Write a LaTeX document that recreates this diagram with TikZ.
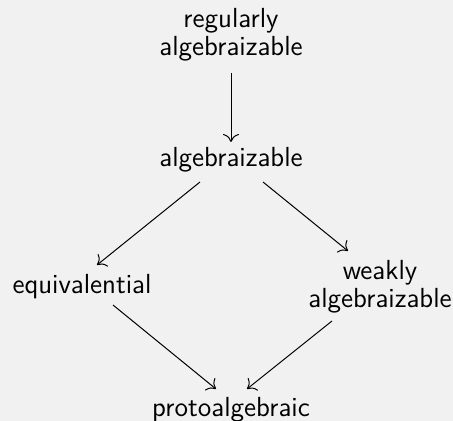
\documentclass[tikz,border=0pt]{standalone}
\usetikzlibrary{arrows.meta,calc}
\definecolor{bgc}{HTML}{F1F1F1}
\begin{document}
\begin{tikzpicture}[x=0.5pt,y=-0.5pt,
  lbl/.style={align=center,font=\sffamily\fontsize{13.8}{13.8}\selectfont,inner sep=2pt},
  arr/.style={-{To[length=4pt,width=8pt]},line width=0.5pt}]
\fill[bgc] (0,0) rectangle (453,421);
\useasboundingbox (0,0) rectangle (453,421);
\node[lbl] (ra) at (231,35) {regularly\\algebraizable};
\node[lbl] (a) at (231,160) {algebraizable};
\node[lbl] (e) at (82,287) {equivalential};
\node[lbl] (w) at (380,287) {weakly\\algebraizable};
\node[lbl] (p) at (231,410) {protoalgebraic};
\draw[arr] ($(ra)+(0,38)$) -- ($(a)+(0,-18)$);
\draw[arr] ($(a)+(-31,22)$) -- ($(e)+(15,-22)$);
\draw[arr] ($(a)+(32,22)$) -- ($(w)+(-32,-36)$);
\draw[arr] ($(e)+(31,18)$) -- ($(p)+(-15,-21)$);
\draw[arr] ($(w)+(-48,34)$) -- ($(p)+(16,-21)$);
\end{tikzpicture}
\end{document}
